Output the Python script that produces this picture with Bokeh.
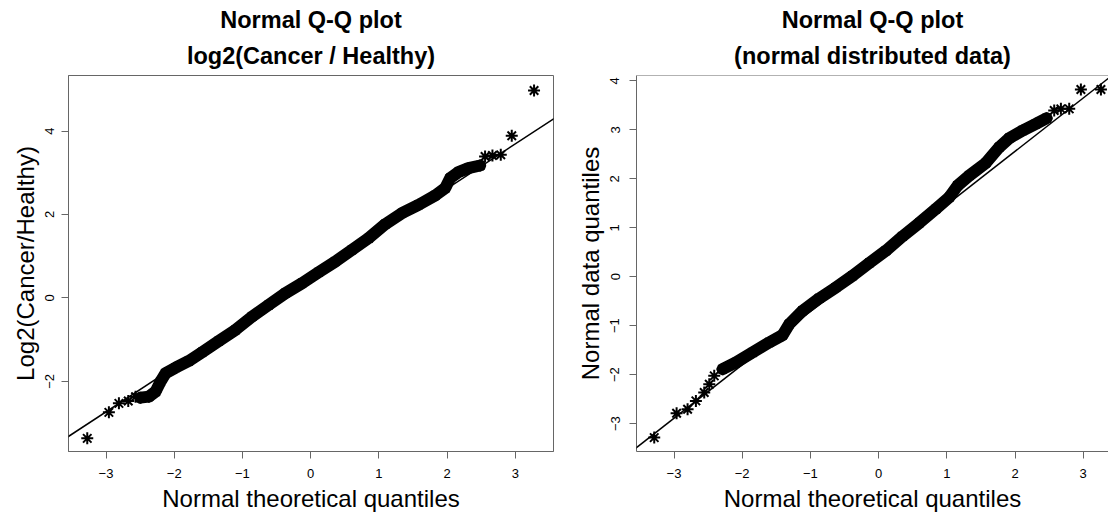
from bokeh.plotting import figure
from bokeh.models import Range1d, Title, Slope, Span, FixedTicker
from bokeh.layouts import row
from bokeh.embed import file_html
from bokeh.resources import INLINE

# ---------------- data ----------------
# Left panel: log2(Cancer / Healthy)
cancer_band_theoretical = [-2.494, -2.372, -2.274, -2.201, -2.128, -1.981, -1.786, -1.591,
                           -1.347, -1.103, -0.859, -0.615, -0.371, -0.127, 0.117, 0.361,
                           0.605, 0.849, 1.093, 1.337, 1.581, 1.825, 1.972, 2.045, 2.167,
                           2.313, 2.484]
cancer_band_sample = [-2.390, -2.366, -2.246, -2.006, -1.807, -1.671, -1.511, -1.303,
                      -1.031, -0.767, -0.448, -0.168, 0.112, 0.352, 0.616, 0.871,
                      1.151, 1.431, 1.767, 2.030, 2.230, 2.454, 2.630, 2.870, 3.014,
                      3.110, 3.173]
cancer_tail_theoretical = [-3.275, -2.958, -2.811, -2.674, -2.567, 2.557, 2.665, 2.787, 2.948, 3.275]
cancer_tail_sample = [-3.365, -2.742, -2.526, -2.470, -2.366, 3.389, 3.413, 3.429, 3.885, 4.972]
cancer_line_intercept = 0.48
cancer_line_slope = 1.07

# Right panel: normal distributed data
normal_band_theoretical = [-2.288, -2.092, -1.848, -1.604, -1.408, -1.310, -1.115, -0.871,
                           -0.626, -0.382, -0.137, 0.107, 0.351, 0.596, 0.840, 1.036,
                           1.158, 1.329, 1.573, 1.769, 1.915, 2.111, 2.306, 2.463]
normal_band_sample = [-1.888, -1.752, -1.547, -1.343, -1.193, -0.968, -0.695, -0.443,
                      -0.218, 0.020, 0.280, 0.532, 0.825, 1.098, 1.384, 1.622,
                      1.861, 2.065, 2.325, 2.645, 2.829, 2.986, 3.122, 3.238]
normal_tail_theoretical = [-3.290, -2.962, -2.801, -2.679, -2.557, -2.483, -2.410,
                           2.575, 2.673, 2.795, 2.966, 3.260]
normal_tail_sample = [-3.286, -2.788, -2.706, -2.536, -2.365, -2.195, -2.025,
                      3.395, 3.429, 3.429, 3.824, 3.824]
normal_line_intercept = 0.38
normal_line_slope = 1.09

x_ticks = [-3, -2, -1, 0, 1, 2, 3]
cancer_y_ticks = [-2, 0, 2, 4]
normal_y_ticks = [-3, -2, -1, 0, 1, 2, 3, 4]

titles_left = ["Normal Q-Q plot", "log2(Cancer / Healthy)"]
titles_right = ["Normal Q-Q plot", "(normal distributed data)"]
x_label = "Normal theoretical quantiles"
y_label_left = "Log2(Cancer/Healthy)"
y_label_right = "Normal data quantiles"

FONT = "Liberation Sans"
GRAY = "#666666"


def style_axes(p, yticks, ylab_standoff_tick):
    for ax in (p.xaxis[0], p.yaxis[0]):
        ax.axis_line_color = GRAY
        ax.major_tick_line_color = GRAY
        ax.minor_tick_line_color = None
        ax.major_tick_in = 0
        ax.major_tick_out = 7
        ax.major_label_text_font = FONT
        ax.major_label_text_font_size = "13px"
        ax.major_label_text_color = "black"
        ax.axis_label_text_font = FONT
        ax.axis_label_text_font_size = "24px"
        ax.axis_label_text_font_style = "normal"
        ax.axis_label_text_color = "black"
    p.xaxis.ticker = FixedTicker(ticks=x_ticks)
    p.yaxis.ticker = FixedTicker(ticks=yticks)
    p.xaxis.major_label_standoff = 10
    p.xaxis.axis_label_standoff = 4
    p.yaxis.major_label_orientation = "vertical"
    p.yaxis.major_label_standoff = ylab_standoff_tick
    p.yaxis.axis_label_standoff = 4
    p.xgrid.visible = False
    p.ygrid.visible = False


def add_titles(p, lines, offset=0):
    p.add_layout(Title(text=lines[1], align="center", text_font=FONT, text_font_size="23.5px",
                       text_font_style="bold", text_color="black", standoff=14,
                       offset=offset), "above")
    p.add_layout(Title(text=lines[0], align="center", text_font=FONT, text_font_size="23.5px",
                       text_font_style="bold", text_color="black", standoff=2,
                       offset=offset), "above")


# ---------------- left panel ----------------
p1 = figure(width=572, height=515, title=None,
            x_range=Range1d(-3.55, 3.56), y_range=Range1d(-3.68, 5.33),
            output_backend="svg", toolbar_location=None,
            min_border_left=68, min_border_right=19, min_border_top=75, min_border_bottom=64,
            x_axis_label=x_label, y_axis_label=y_label_left)
p1.outline_line_color = GRAY
p1.outline_line_alpha = 1.0
style_axes(p1, cancer_y_ticks, 7)
add_titles(p1, titles_left)

p1.add_layout(Slope(gradient=cancer_line_slope, y_intercept=cancer_line_intercept,
                    line_color="black", line_width=1.5))
p1.line(cancer_band_theoretical, cancer_band_sample, line_color="black", line_width=12,
        line_join="round", line_cap="round")
p1.scatter(cancer_band_theoretical, cancer_band_sample, marker="asterisk", size=12,
           line_color="black", line_width=2)
p1.scatter(cancer_tail_theoretical, cancer_tail_sample, marker="asterisk", size=12,
           line_color="black", line_width=2)

# ---------------- right panel ----------------
p2 = figure(width=536, height=515, title=None,
            x_range=Range1d(-3.55, 3.371), y_range=Range1d(-3.57, 4.11),
            output_backend="svg", toolbar_location=None,
            min_border_left=64, min_border_right=0, min_border_top=75, min_border_bottom=64,
            x_axis_label=x_label, y_axis_label=y_label_right)
p2.outline_line_color = None
style_axes(p2, normal_y_ticks, 10)
add_titles(p2, titles_right, offset=7)
p2.add_layout(Span(location=4.11, dimension="width", line_color=GRAY, line_width=1))

p2.add_layout(Slope(gradient=normal_line_slope, y_intercept=normal_line_intercept,
                    line_color="black", line_width=1.5))
p2.line(normal_band_theoretical, normal_band_sample, line_color="black", line_width=12,
        line_join="round", line_cap="round")
p2.scatter(normal_band_theoretical, normal_band_sample, marker="asterisk", size=12,
           line_color="black", line_width=2)
p2.scatter(normal_tail_theoretical, normal_tail_sample, marker="asterisk", size=12,
           line_color="black", line_width=2)

layout = row(p1, p2)
open("out.html", "w").write(file_html(layout, INLINE))
